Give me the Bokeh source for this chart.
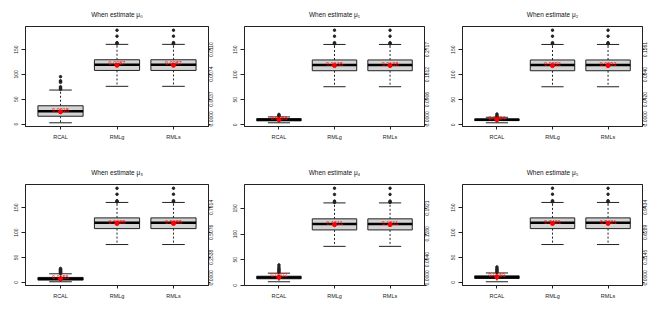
import math
from bokeh.plotting import figure
from bokeh.layouts import gridplot
from bokeh.models import LinearAxis, FixedTicker, Range1d
from bokeh.core.properties import value
from bokeh.embed import file_html
from bokeh.resources import INLINE

FONT = "Liberation Sans"

groups = ["RCAL", "RMLg", "RMLs"]
titles = ["When estimate \u03bc\u2080", "When estimate \u03bc\u2081", "When estimate \u03bc\u2082",
          "When estimate \u03bc\u2083", "When estimate \u03bc\u2084", "When estimate \u03bc\u2085"]

# RMLg / RMLs box statistics (identical in all panels)
rml_lo = 76.0
rml_q1 = 108.0
rml_med = 119.5
rml_q3 = 129.5
rml_hi = 160.5
rml_mean = 118.2
rml_out = [161.5, 162.5, 164.0, 177.0, 189.0]

# RCAL box statistics per panel
rcal_lo = [2.6, 3.9, 4.0, 1.3, 7.2, 1.3]
rcal_q1 = [15.8, 7.8, 8.4, 4.6, 13.0, 7.9]
rcal_med = [25.7, 10.0, 10.0, 7.4, 15.5, 10.5]
rcal_q3 = [36.9, 12.3, 11.7, 10.0, 18.0, 13.2]
rcal_hi = [68.5, 15.6, 15.0, 17.3, 23.9, 19.0]
rcal_mean = [24.5, 10.1, 10.0, 7.0, 15.8, 10.5]
rcal_out = [[70, 72, 73, 75, 84, 86, 87, 95.5],
            [16.5, 17.5, 19, 20.7],
            [16, 17, 18.5, 21.5],
            [18, 19, 20, 21, 22, 23, 24, 25, 26, 28],
            [25, 27, 29, 31, 33, 36, 40],
            [20, 22, 24, 26, 28, 31]]

left_ticks = [0, 50, 100, 150]
right_tick_labels = [["0.0000", "0.0037", "0.0074", "0.0110"],
                     ["0.0000", "0.0906", "0.1812", "0.2717"],
                     ["0.0000", "0.0420", "0.0840", "0.1261"],
                     ["0.0000", "0.2538", "0.5076", "0.7614"],
                     ["0.0000", "0.0640", "0.1280", "0.1921"],
                     ["0.0000", "0.3145", "0.6289", "0.9434"]]
mean_labels = [["0.0018", "0.0087", "0.0087"],
               ["0.0183", "0.2138", "0.2138"],
               ["0.0084", "0.0992", "0.0992"],
               ["0.0355", "0.5988", "0.5988"],
               ["0.0202", "0.1511", "0.1511"],
               ["0.0659", "0.7421", "0.7421"]]

col_width = [218, 218, 218]
col_left = [25, 26, 26]
col_right = [10, 12, 12]
row_height = [158, 158]
row_top = [24, 24]
row_bottom = [32, 31]
HALF_LABEL_PX = 7.6  # half the length of a rotated right-axis label

figs = []
for i in range(6):
    r, c = divmod(i, 3)
    xs = [1, 2, 3]
    lo = [rcal_lo[i], rml_lo, rml_lo]
    q1 = [rcal_q1[i], rml_q1, rml_q1]
    med = [rcal_med[i], rml_med, rml_med]
    q3 = [rcal_q3[i], rml_q3, rml_q3]
    hi = [rcal_hi[i], rml_hi, rml_hi]
    mean = [rcal_mean[i], rml_mean, rml_mean]
    outs = [rcal_out[i], rml_out, rml_out]
    allv = lo + hi + [v for o in outs for v in o]
    ymin, ymax = min(allv), max(allv)
    pad = 0.04 * (ymax - ymin)
    y0, y1 = ymin - pad, ymax + pad

    p = figure(width=col_width[c], height=row_height[r], x_range=(0.38, 3.62),
               y_range=(y0, y1),
               output_backend="svg", toolbar_location=None, title=titles[i],
               min_border_left=col_left[c], min_border_right=col_right[c],
               min_border_top=row_top[r], min_border_bottom=row_bottom[r])
    frame_h = row_height[r] - row_top[r] - row_bottom[r]
    shift = HALF_LABEL_PX * (y1 - y0) / frame_h
    r0, r1 = y0 + shift, y1 + shift
    p.extra_y_ranges = {"rlab": Range1d(r0, r1)}
    # label anchors on the shifted range (the lowest one is kept inside the frame)
    lab_ticks = [t if t >= r0 else round(r0 + 0.05, 2) for t in left_ticks]

    p.xgrid.visible = False
    p.ygrid.visible = False
    p.outline_line_color = "#222222"
    p.outline_line_width = 1
    p.title.align = "center"
    p.title.text_font = FONT
    p.title.text_font_size = "6.5px"
    p.title.text_font_style = "normal"
    p.title.text_color = "#111111"
    p.title.standoff = 17

    # whiskers
    p.segment(x0=xs, y0=q3, x1=xs, y1=hi, line_color="#222222", line_width=1, line_dash="2 2")
    p.segment(x0=xs, y0=q1, x1=xs, y1=lo, line_color="#222222", line_width=1, line_dash="2 2")
    p.segment(x0=[x - 0.2 for x in xs], y0=hi, x1=[x + 0.2 for x in xs], y1=hi, line_color="#222222", line_width=1)
    p.segment(x0=[x - 0.2 for x in xs], y0=lo, x1=[x + 0.2 for x in xs], y1=lo, line_color="#222222", line_width=1)
    # boxes
    p.vbar(x=xs, width=0.8, bottom=q1, top=q3, fill_color="#D3D3D3", line_color="#222222", line_width=1)
    p.segment(x0=[x - 0.4 for x in xs], y0=med, x1=[x + 0.4 for x in xs], y1=med, line_color="black", line_width=2.5)
    # outliers
    ox = [xs[g] for g in range(3) for _ in outs[g]]
    oy = [v for g in range(3) for v in outs[g]]
    p.scatter(x=ox, y=oy, size=2.5, fill_color="#222222", line_color="#222222")
    # means
    p.scatter(x=xs, y=mean, size=4, fill_color="red", line_color="red")
    p.text(x=xs, y=mean, text=mean_labels[i], text_color="red", text_font=value(FONT),
           text_font_size="5.5px", text_align="center", text_baseline="bottom")

    # axes
    p.yaxis.ticker = FixedTicker(ticks=left_ticks)
    p.yaxis.major_label_orientation = "vertical"
    p.xaxis.ticker = FixedTicker(ticks=xs)
    p.xaxis.major_label_overrides = {x: g for x, g in zip(xs, groups)}
    rticks = LinearAxis(ticker=FixedTicker(ticks=left_ticks),
                        major_label_overrides={t: "" for t in left_ticks})
    rlabels = LinearAxis(y_range_name="rlab", ticker=FixedTicker(ticks=lab_ticks),
                         major_label_overrides={t: s for t, s in zip(lab_ticks, right_tick_labels[i])},
                         major_label_orientation=math.pi / 2)
    p.add_layout(rticks, "right")
    p.add_layout(rlabels, "right")
    for ax in [p.xaxis[0], p.yaxis[0], rticks, rlabels]:
        ax.major_label_text_font = FONT
        ax.major_label_text_font_size = "5px"
        ax.major_label_text_color = "#222222"
        ax.major_tick_out = 3
        ax.major_tick_in = 0
        ax.minor_tick_out = 0
        ax.minor_tick_in = 0
        ax.major_label_standoff = 2
        ax.axis_line_color = "#222222"
        ax.major_tick_line_color = "#222222"
    p.yaxis.major_tick_out = 4
    p.yaxis.major_label_standoff = 3
    rticks.major_tick_out = 2
    rticks.major_label_standoff = 0
    rlabels.major_tick_out = 0
    rlabels.major_label_standoff = 1
    rlabels.axis_line_color = None
    rlabels.major_tick_line_color = None
    p.xaxis.major_label_text_font_size = "5.5px"
    p.xaxis.major_label_standoff = 4
    figs.append(p)

grid = gridplot([figs[:3], figs[3:]], toolbar_location=None)
open("out.html", "w").write(file_html(grid, INLINE))
